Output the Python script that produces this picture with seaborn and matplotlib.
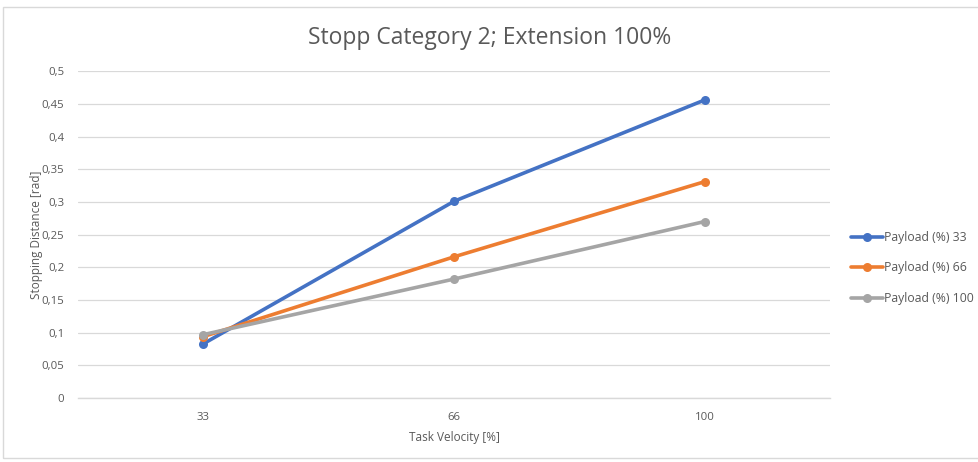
import matplotlib
matplotlib.use("Agg")
import matplotlib.pyplot as plt
import seaborn as sns
import pandas as pd
from matplotlib.patches import Rectangle

velocity = ["33", "66", "100"]
payload_33 = [0.083, 0.301, 0.456]
payload_66 = [0.094, 0.216, 0.331]
payload_100 = [0.097, 0.182, 0.270]
series_names = ["Payload (%) 33", "Payload (%) 66", "Payload (%) 100"]
y_ticks = [0, 0.05, 0.1, 0.15, 0.2, 0.25, 0.3, 0.35, 0.4, 0.45, 0.5]
y_tick_labels = ["0", "0,05", "0,1", "0,15", "0,2", "0,25", "0,3", "0,35", "0,4", "0,45", "0,5"]

rows = []
for name, vals in zip(series_names, [payload_33, payload_66, payload_100]):
    for i, (v, val) in enumerate(zip(velocity, vals)):
        rows.append({"pos": i, "vel": v, "value": val, "series": name})
df = pd.DataFrame(rows)

sns.set_style("white")
plt.rcParams['font.family'] = ['Open Sans', 'DejaVu Sans']

fig = plt.figure(figsize=(9.79, 4.62), dpi=100)
ax = fig.add_axes([0.0797, 0.1385, 0.848 - 0.0797, 0.846 - 0.1385])

palette = {"Payload (%) 33": "#4472C4", "Payload (%) 66": "#ED7D31", "Payload (%) 100": "#A5A5A5"}
sns.lineplot(data=df, x="pos", y="value", hue="series", palette=palette, marker="o",
             markersize=6.5, markeredgewidth=0, linewidth=2.6, ax=ax, legend=True)

ax.set_xlim(-0.5, 2.5)
ax.set_ylim(0, 0.5)
ax.set_xticks(range(len(velocity)))
ax.set_xticklabels(velocity)
ax.set_yticks(y_ticks)
ax.set_yticklabels(y_tick_labels)
ax.tick_params(axis='both', length=0, labelsize=8.2, colors="#595959")
ax.tick_params(axis='x', pad=10)
ax.tick_params(axis='y', pad=10)
ax.grid(axis='y', color="#D9D9D9", linewidth=0.9)
ax.set_axisbelow(True)
for s in ["top", "right", "left"]:
    ax.spines[s].set_visible(False)
ax.spines["bottom"].set_color("#D9D9D9")
ax.spines["bottom"].set_linewidth(1.0)

ax.set_xlabel("Task Velocity [%]", fontsize=8.5, color="#595959", labelpad=6)
ax.set_ylabel("Stopping Distance [rad]", fontsize=8.5, color="#595959", labelpad=2)
ax.yaxis.set_label_coords(-0.047, 0.5)

fig.text(0.5, 0.917, "Stopp Category 2; Extension 100%", ha="center", va="center",
         fontsize=16.5, color="#595959")

leg = ax.legend(loc="center left", bbox_to_anchor=(846 / 979, 1 - 268 / 462),
                bbox_transform=fig.transFigure, frameon=False,
                fontsize=8.8, labelcolor="#595959", handlelength=2.6,
                handletextpad=0.15, labelspacing=1.45, borderaxespad=0.0)

fig.patches.append(Rectangle((0.003, 0.008), 1.2, 0.977, transform=fig.transFigure,
                             fill=False, edgecolor="#D9D9D9", linewidth=1.0))

fig.savefig("out.png", dpi=100)
